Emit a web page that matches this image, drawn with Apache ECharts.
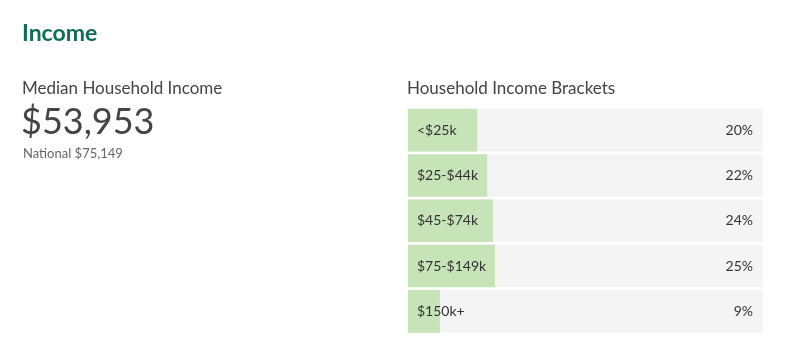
<!DOCTYPE html>
<html><head><meta charset="utf-8">
<script src="https://cdn.jsdelivr.net/npm/echarts@6/dist/echarts.min.js"></script>
<style>html,body{margin:0;padding:0;background:#fff}#c{width:785px;height:343px}</style>
</head><body><div id="c"></div>
<script>
const categories = ['<$25k', '$25-$44k', '$45-$74k', '$75-$149k', '$150k+'];
const shares = [19.5, 22.3, 23.9, 24.5, 9.0];
const shareLabels = ['20%', '22%', '24%', '25%', '9%'];
const medianIncome = '$53,953';
const nationalIncome = 'National $75,149';

const FONT = 'Lato';
const chart = echarts.init(document.getElementById('c'), null, {renderer: 'canvas'});
chart.setOption({
  animation: false,
  backgroundColor: '#fff',
  title: [
    {text: 'Income', left: 22, top: 22, padding: 0, textStyle: {fontFamily: FONT, fontSize: 23, fontWeight: 'bold', color: '#0f6e55'}},
    {text: 'Median Household Income', left: 22, top: 80, padding: 0, textStyle: {fontFamily: FONT, fontSize: 17, fontWeight: 'normal', color: '#444'}},
    {text: medianIncome, left: 21, top: 104, padding: 0, textStyle: {fontFamily: FONT, fontSize: 36, fontWeight: 'normal', color: '#444'}},
    {text: nationalIncome, left: 23, top: 147, padding: 0, textStyle: {fontFamily: FONT, fontSize: 13, fontWeight: 'normal', color: '#666'}},
    {text: 'Household Income Brackets', left: 407, top: 80, padding: 0, textStyle: {fontFamily: FONT, fontSize: 17, fontWeight: 'normal', color: '#444'}}
  ],
  grid: {left: 408, right: 22, top: 107.5, bottom: 9},
  xAxis: {type: 'value', min: 0, max: 100, show: false},
  yAxis: [
    {type: 'category', data: categories, inverse: true, z: 10,
     axisLine: {show: false}, axisTick: {show: false},
     axisLabel: {inside: true, margin: 9, align: 'left', verticalAlign: 'middle', fontFamily: FONT, fontSize: 14, color: '#333', lineHeight: 14, padding: [0,0,2,0]}},
    {type: 'category', data: shareLabels, inverse: true, position: 'right', z: 10,
     axisLine: {show: false}, axisTick: {show: false},
     axisLabel: {inside: true, margin: 10, align: 'right', verticalAlign: 'middle', fontFamily: FONT, fontSize: 14, color: '#333', padding: [2,0,0,0]}}
  ],
  series: [{
    type: 'bar', yAxisIndex: 0, data: shares, barCategoryGap: '6%',
    showBackground: true, backgroundStyle: {color: '#f4f4f4'},
    itemStyle: {color: '#c6e4b8'},
    silent: true
  }]
});
</script></body></html>
